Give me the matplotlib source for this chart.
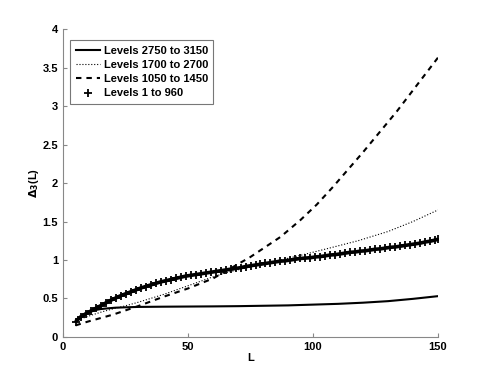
import matplotlib
matplotlib.use('Agg')
import matplotlib.pyplot as plt

plt.rcParams['font.family'] = ['Liberation Sans', 'DejaVu Sans']
plt.rcParams['font.weight'] = 'bold'

# Levels 2750 to 3150 (solid)
L_solid = [5, 7, 9, 11, 13, 15, 18, 21, 25, 30, 40, 50, 60, 70, 80, 90, 100, 110, 120, 130, 140, 150]
d_solid = [0.20, 0.255, 0.30, 0.33, 0.35, 0.362, 0.372, 0.38, 0.385, 0.39, 0.393, 0.395, 0.397,
           0.40, 0.405, 0.41, 0.42, 0.43, 0.445, 0.465, 0.495, 0.53]

# Levels 1700 to 2700 (dotted)
L_dot = [5, 8, 12, 16, 20, 25, 30, 40, 50, 59, 67, 75, 80, 87, 95, 106, 118, 130, 140, 150]
d_dot = [0.20, 0.245, 0.29, 0.33, 0.365, 0.405, 0.45, 0.55, 0.665, 0.77, 0.85, 0.91, 0.95,
         1.00, 1.06, 1.15, 1.25, 1.37, 1.50, 1.65]

# Levels 1050 to 1450 (dashed)
L_dash = [5, 10, 20, 30, 40, 50, 60, 67, 75, 87, 95, 101.5, 108, 120, 133.5, 150]
d_dash = [0.15, 0.20, 0.29, 0.40, 0.52, 0.63, 0.76, 0.89, 1.04, 1.30, 1.52, 1.72, 1.95, 2.40,
          2.93, 3.63]

# Levels 1 to 960 (plus markers)
L_plus = list(range(5, 150, 2)) + [150]
d_plus = [0.20, 0.26, 0.30, 0.335, 0.37, 0.405, 0.44, 0.475, 0.505, 0.535,
          0.56, 0.585, 0.61, 0.635, 0.655, 0.675, 0.695, 0.715, 0.73, 0.745,
          0.76, 0.775, 0.79, 0.80, 0.81, 0.82, 0.83, 0.84, 0.85, 0.86,
          0.87, 0.88, 0.89, 0.90, 0.915, 0.925, 0.935, 0.945, 0.955, 0.965,
          0.975, 0.985, 0.99, 1.00, 1.01, 1.02, 1.025, 1.03, 1.04, 1.045,
          1.055, 1.065, 1.07, 1.08, 1.09, 1.10, 1.105, 1.115, 1.12, 1.13,
          1.14, 1.145, 1.155, 1.165, 1.17, 1.18, 1.19, 1.20, 1.21, 1.22,
          1.235, 1.245, 1.26, 1.27]

fig = plt.figure(figsize=(4.85, 3.79), dpi=100)
ax = fig.add_axes([0.130, 0.111, 0.773, 0.812])

ax.plot(L_solid, d_solid, '-', color='black', lw=1.5, label='Levels 2750 to 3150')
ax.plot(L_dot, d_dot, ':', color='black', lw=0.8, label='Levels 1700 to 2700')
ax.plot(L_dash, d_dash, '--', color='black', lw=1.5, dashes=(2.6, 2.4), label='Levels 1050 to 1450')
# dense markers blur into a thick band in the original
ax.plot(L_plus, d_plus, '-', color='black', lw=2.6, solid_capstyle='butt')
ax.plot(L_plus, d_plus, '+', color='black', ms=5.5, mew=1.3, label='Levels 1 to 960')

ax.set_xlim(0, 150)
ax.set_ylim(0, 4)
ax.set_xticks([0, 50, 100, 150])
ax.set_yticks([0, 0.5, 1, 1.5, 2, 2.5, 3, 3.5, 4])
ax.set_yticklabels(['0', '0.5', '1', '1.5', '2', '2.5', '3', '3.5', '4'])
for s in ['top', 'right']:
    ax.spines[s].set_visible(False)
for s in ['left', 'bottom']:
    ax.spines[s].set_color('#888888')
ax.tick_params(direction='in', length=3, color='#888888', labelsize=8)
ax.set_xlabel('L', fontsize=8, fontweight='bold', labelpad=1)
ax.set_ylabel(r'$\Delta_3$(L)', fontsize=8, fontweight='bold', labelpad=1)

leg = ax.legend(loc='upper left', bbox_to_anchor=(0.019, 0.964), fontsize=8,
                frameon=True, fancybox=False, edgecolor='#555555',
                handlelength=2.2, handletextpad=0.3, borderpad=0.5,
                labelspacing=0.38, borderaxespad=0)
leg.get_frame().set_linewidth(0.8)

fig.savefig('out.png', dpi=100)
